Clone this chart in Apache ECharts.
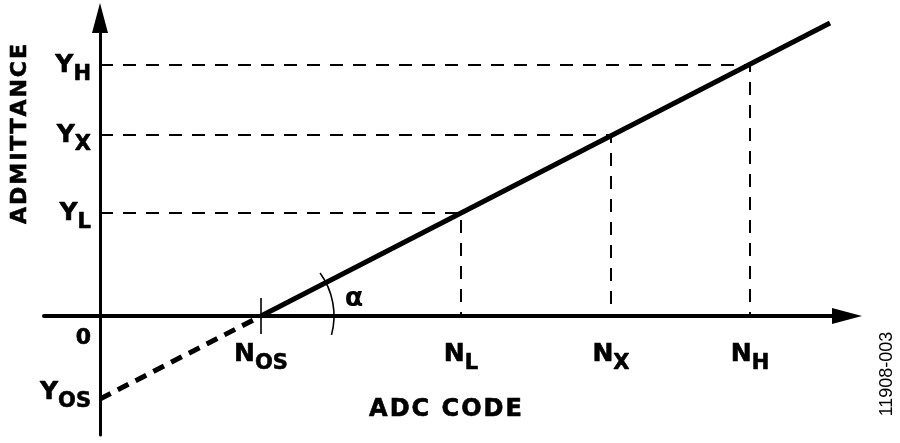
<!DOCTYPE html>
<html><head><meta charset="utf-8">
<script src="https://cdn.jsdelivr.net/npm/echarts@6/dist/echarts.min.js"></script>
<style>html,body{margin:0;padding:0;background:#fff}#c{width:900px;height:443px}</style>
</head><body><div id="c"></div>
<script>
// ---- data ----
const xTickNames = ['N|OS', 'N|L', 'N|X', 'N|H'];
const xTickValues = [161, 361, 511, 650];
const yTickNames = ['Y|OS', '0', 'Y|L', 'Y|X', 'Y|H'];
const yTickValues = [-83, 0, 103, 181, 251];
const transferCodes = [161, 730];
const transferAdmittance = [0, 293];
const offsetCodes = [0, 161];
const offsetAdmittance = [-83, 0];
const guideCodes = [361, 511, 650];
const guideAdmittance = [103, 181, 251];
const xRange = [-56, 747];
const yRange = [-119, 298];
const angleLabel = 'α';
const xTitle = 'ADC CODE';
const yTitle = 'ADMITTANCE';
const figureId = '11908-003';

// ---- styling ----
const FONT = 'DejaVu Sans';
const BLACK = '#000';
const GRID = { left: 44, right: 53, top: 18, bottom: 8 };
const CH = 443, CW = 900;
const baseTok = { fontFamily: FONT, fontWeight: 'bold', color: BLACK, verticalAlign: 'middle',
  textBorderColor: BLACK, textBorderWidth: 0.6 };
const tickRich = {
  m: Object.assign({}, baseTok, { fontSize: 25, lineHeight: 28 }),
  s: Object.assign({}, baseTok, { fontSize: 21, lineHeight: 24, padding: [19, 0, 0, 0] }),
  mo: Object.assign({}, baseTok, { fontSize: 25, lineHeight: 28, padding: [0, 0, 14, 0] }),
  so: Object.assign({}, baseTok, { fontSize: 21, lineHeight: 24, padding: [19, 0, 14, 0] }),
  z: Object.assign({}, baseTok, { fontSize: 22, lineHeight: 28, padding: [44, 0, 0, 0] })
};
function tickText(name, isLow) {
  const p = name.split('|');
  if (p.length < 2) return '{z|' + p[0] + '}';
  return isLow ? '{mo|' + p[0] + '}{so|' + p[1] + '}' : '{m|' + p[0] + '}{s|' + p[1] + '}';
}
function spaced(str, tok) { return str.split('').map(ch => '{' + tok + '|' + ch + '}').join(''); }
const titleRich = {
  t: Object.assign({}, baseTok, { fontSize: 24, lineHeight: 28, padding: [0, 1, 0, 1] })
};
// zrender-level rich style for the graphic (rotated) title
const graphicRich = {
  v: { fontFamily: FONT, fontWeight: 'bold', fontSize: 22, lineHeight: 26, padding: [0, 1, 0, 1],
       fill: BLACK, stroke: BLACK, lineWidth: 0.6 }
};

// place each axis on the other's zero through axis offsets (derived from ranges & grid)
const gridH = CH - GRID.top - GRID.bottom, gridW = CW - GRID.left - GRID.right;
const xAxisOffset = -gridH * (0 - yRange[0]) / (yRange[1] - yRange[0]);
const yAxisOffset = -gridW * (0 - xRange[0]) / (xRange[1] - xRange[0]);

const guideSeries = guideCodes.map((n, i) => ({
  type: 'line', silent: true, symbol: 'none', z: 2,
  data: [[0, guideAdmittance[i]], [n, guideAdmittance[i]], [n, 0]],
  lineStyle: { color: BLACK, width: 2, type: [13, 10] }
}));

const option = {
  animation: false,
  backgroundColor: '#fff',
  grid: Object.assign({ containLabel: false, outerBoundsMode: 'none' }, GRID),
  xAxis: {
    type: 'value', min: xRange[0], max: xRange[1], offset: xAxisOffset,
    axisLine: { onZero: false, symbol: ['none', 'triangle'], symbolSize: [16, 30], lineStyle: { color: BLACK, width: 4 } },
    axisTick: { show: false }, splitLine: { show: false },
    axisLabel: {
      customValues: xTickValues, margin: 24, rich: tickRich,
      formatter: v => { const i = xTickValues.indexOf(v); return i < 0 ? '' : tickText(xTickNames[i], false); }
    },
    name: spaced(xTitle, 't'), nameLocation: 'middle', nameGap: 80, nameMoveOverlap: false,
    nameTextStyle: { rich: titleRich }
  },
  yAxis: {
    type: 'value', min: yRange[0], max: yRange[1], offset: yAxisOffset,
    axisLine: { onZero: false, symbol: ['none', 'triangle'], symbolSize: [16, 30], lineStyle: { color: BLACK, width: 3 } },
    axisTick: { show: false }, splitLine: { show: false },
    axisLabel: {
      customValues: yTickValues, margin: 9, rich: tickRich,
      formatter: v => { const i = yTickValues.indexOf(v); return i < 0 ? '' : tickText(yTickNames[i], v < 0); }
    }
  },
  graphic: [
    { type: 'text', x: 20, y: 134, rotation: Math.PI / 2, silent: true,
      style: { text: spaced(yTitle, 'v'), rich: graphicRich, align: 'center', verticalAlign: 'middle' } },
    { type: 'text', x: 887, y: 374, rotation: Math.PI / 2, silent: true,
      style: { text: figureId, font: '18px "Liberation Sans"', fill: BLACK, align: 'center', verticalAlign: 'middle' } }
  ],
  series: guideSeries.concat([
    { type: 'line', silent: true, symbol: 'none', z: 4,
      data: offsetCodes.map((c, i) => [c, offsetAdmittance[i]]),
      lineStyle: { color: BLACK, width: 5, type: [12, 8] } },
    { type: 'line', silent: true, symbol: 'none', z: 5,
      data: transferCodes.map((c, i) => [c, transferAdmittance[i]]),
      lineStyle: { color: BLACK, width: 5 } },
    { type: 'scatter', silent: true, z: 6, symbol: 'rect', symbolSize: [2, 36],
      itemStyle: { color: BLACK }, data: [[offsetCodes[1], 0]] },
    { type: 'custom', silent: true, z: 6, coordinateSystem: 'cartesian2d',
      data: [[transferCodes[0], 0]],
      renderItem: (params, api) => {
        const c = api.coord([api.value(0), api.value(1)]);
        return {
          type: 'group', children: [
            { type: 'arc', shape: { cx: c[0], cy: c[1], r: 73, startAngle: -36 * Math.PI / 180, endAngle: 15 * Math.PI / 180, clockwise: true },
              style: { stroke: BLACK, fill: 'none', lineWidth: 1.6 } },
            { type: 'text', x: c[0] + 93, y: c[1] - 17,
              style: { text: angleLabel, font: 'bold 27px "DejaVu Sans"', fill: BLACK, align: 'center', verticalAlign: 'middle' } }
          ]
        };
      } }
  ])
};
echarts.init(document.getElementById('c'), null, { renderer: 'canvas' }).setOption(option);
</script>
</body></html>
